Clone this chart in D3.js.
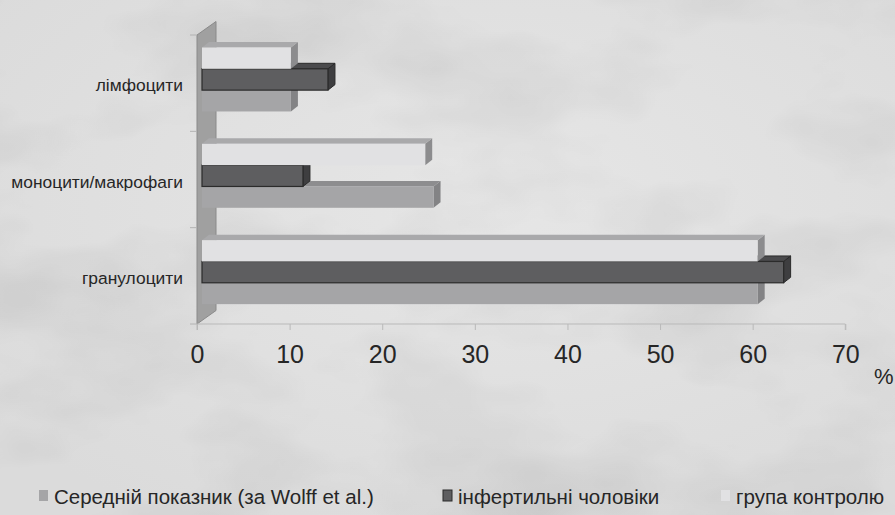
<!DOCTYPE html>
<html>
<head>
<meta charset="utf-8">
<script src="https://cdn.jsdelivr.net/npm/d3@7"></script>
<style>
  html, body { margin: 0; padding: 0; background: #dddddd; }
  svg { display: block; font-family: "Liberation Sans", Arial, sans-serif; }
</style>
</head>
<body>
<svg id="chart" width="895" height="515"></svg>
<script>
// Cell types (top to bottom) and the three compared groups, in %
const categories = ["лімфоцити", "моноцити/макрофаги", "гранулоцити"];
const seriesKeys = ["control", "infertile", "wolff"];           // top-to-bottom inside each group
const seriesNames = {
  wolff: "Середній показник (за Wolff et al.)",
  infertile: "інфертильні чоловіки",
  control: "група контролю"
};
const legendOrder = ["wolff", "infertile", "control"];
const control   = [9.6, 24.1, 60];
const infertile = [13.6, 10.9, 62.8];
const wolff     = [9.6, 25, 60];
const xTicks = [0, 10, 20, 30, 40, 50, 60, 70];
const unitLabel = "%";

const values = { control, infertile, wolff };

// Face colours for each series: front, top, side, outline
const palette = {
  control:   { front: "#e1e1e3", top: "#a9a9ab", side: "#8c8c8e", stroke: null },
  infertile: { front: "#5e5e60", top: "#4b4b4d", side: "#3e3e40", stroke: "#2b2b2b" },
  wolff:     { front: "#a5a5a7", top: "#8d8d8f", side: "#838385", stroke: null }
};

const svg = d3.select("#chart");
const W = 895, H = 515;

// ---- marble-like background ----
const defs = svg.append("defs");
const f = defs.append("filter").attr("id", "marble").attr("x", 0).attr("y", 0).attr("width", "100%").attr("height", "100%");
f.append("feTurbulence").attr("type", "fractalNoise").attr("baseFrequency", "0.005 0.009")
  .attr("numOctaves", 4).attr("seed", 11).attr("result", "noise");
f.append("feColorMatrix").attr("in", "noise").attr("type", "matrix")
  .attr("values", "0 0 0 0 0  0 0 0 0 0  0 0 0 0 0  -1.2 0 0 0 0.7").attr("result", "shade");
f.append("feComposite").attr("in", "shade").attr("in2", "SourceGraphic").attr("operator", "in");

const glow = defs.append("radialGradient").attr("id", "glow").attr("cx", "55%").attr("cy", "40%").attr("r", "70%");
glow.append("stop").attr("offset", "0%").attr("stop-color", "#e6e6e6");
glow.append("stop").attr("offset", "100%").attr("stop-color", "#dbdbdb");

svg.append("rect").attr("width", W).attr("height", H).attr("fill", "url(#glow)");
svg.append("rect").attr("width", W).attr("height", H).attr("fill", "#bdbdbd")
  .attr("filter", "url(#marble)").attr("opacity", 0.12);

// ---- scales ----
const x = d3.scaleLinear().domain([0, 70]).range([197, 845.3]);
const y = d3.scaleBand().domain(categories).range([35, 324]);
const inner = d3.scaleBand().domain(seriesKeys).range([0, y.bandwidth()])
  .paddingInner(0).paddingOuter(0.758);

// 3D projection offsets
const wallDepth = { dx: 19, dy: -13.5 };   // side wall thickness on screen
const barFront = { dx: 5, dy: -3.7 };      // where the bar front faces sit
const barDepth = { dx: 7, dy: -5.5 };      // visible bar depth

// ---- side wall ----
const yTop = y.range()[0], yBot = y.range()[1], x0 = x(0);
svg.append("path")
  .attr("d", d3.line()([
    [x0, yTop], [x0 + wallDepth.dx, yTop + wallDepth.dy],
    [x0 + wallDepth.dx, yBot + wallDepth.dy], [x0, yBot]
  ]) + "Z")
  .attr("fill", "#a0a0a0").attr("stroke", "#8a8a8a").attr("stroke-width", 1);

// category separator ticks on the wall edge
const bounds = categories.map(c => y(c)).concat([yBot]);
svg.append("g").selectAll("line").data(bounds).join("line")
  .attr("x1", x0 - 7).attr("x2", x0).attr("y1", d => d).attr("y2", d => d)
  .attr("stroke", "#b2b2b2").attr("stroke-width", 1);

// ---- x axis on the floor edge ----
const xAxis = d3.axisBottom(x).tickValues(xTicks).tickSize(6).tickPadding(15).tickFormat(d3.format("d"));
const gx = svg.append("g").attr("transform", `translate(0,${yBot})`).call(xAxis);
gx.select(".domain").attr("stroke", "#b9b9b9").attr("d", `M${x0},6V0H${x(70)}V6`);
gx.selectAll(".tick line").attr("stroke", "#b9b9b9");
gx.selectAll(".tick text").attr("fill", "#262626").style("font-size", "25px")
  .style("font-family", "'Liberation Sans', Arial, sans-serif");

svg.append("text").attr("x", 874).attr("y", 384).attr("fill", "#262626")
  .style("font-size", "22px").text(unitLabel);

// ---- bars (drawn bottom series first so upper bars overlap their tops) ----
const drawOrder = ["wolff", "infertile", "control"];
const gBars = svg.append("g");
categories.forEach((cat, ci) => {
  drawOrder.forEach(key => {
    const v = values[key][ci];
    const c = palette[key];
    const fx0 = x(0) + barFront.dx, fx1 = x(v) + barFront.dx;
    const fy0 = y(cat) + inner(key) + barFront.dy, fy1 = fy0 + inner.bandwidth();
    const g = gBars.append("g");
    // side face
    g.append("path").attr("d", d3.line()([
      [fx1, fy0], [fx1 + barDepth.dx, fy0 + barDepth.dy],
      [fx1 + barDepth.dx, fy1 + barDepth.dy], [fx1, fy1]]) + "Z")
      .attr("fill", c.side).attr("stroke", c.stroke || "none").attr("stroke-width", 1);
    // top face
    g.append("path").attr("d", d3.line()([
      [fx0, fy0], [fx0 + barDepth.dx, fy0 + barDepth.dy],
      [fx1 + barDepth.dx, fy0 + barDepth.dy], [fx1, fy0]]) + "Z")
      .attr("fill", c.top).attr("stroke", c.stroke || "none").attr("stroke-width", 1);
    // front face
    g.append("rect").attr("x", fx0).attr("y", fy0).attr("width", fx1 - fx0).attr("height", fy1 - fy0)
      .attr("fill", c.front).attr("stroke", c.stroke || "none").attr("stroke-width", c.stroke ? 1.2 : 0);
  });
});

// ---- category labels ----
svg.append("g").selectAll("text").data(categories).join("text")
  .attr("x", 183).attr("y", d => y(d) + y.bandwidth() / 2 + 2)
  .attr("text-anchor", "end").attr("dominant-baseline", "central")
  .attr("fill", "#262626").style("font-size", "17.4px").text(d => d);

// ---- legend ----
const legendX = { wolff: 39, infertile: 443, control: 721 };
const lg = svg.append("g");
legendOrder.forEach(key => {
  const gx0 = legendX[key];
  lg.append("rect").attr("x", gx0).attr("y", 490).attr("width", 9).attr("height", 11)
    .attr("fill", palette[key].front).attr("stroke", palette[key].stroke || "none");
  lg.append("text").attr("x", gx0 + 15).attr("y", 504).attr("fill", "#262626")
    .style("font-size", "20.5px").text(seriesNames[key]);
});
</script>
</body>
</html>
